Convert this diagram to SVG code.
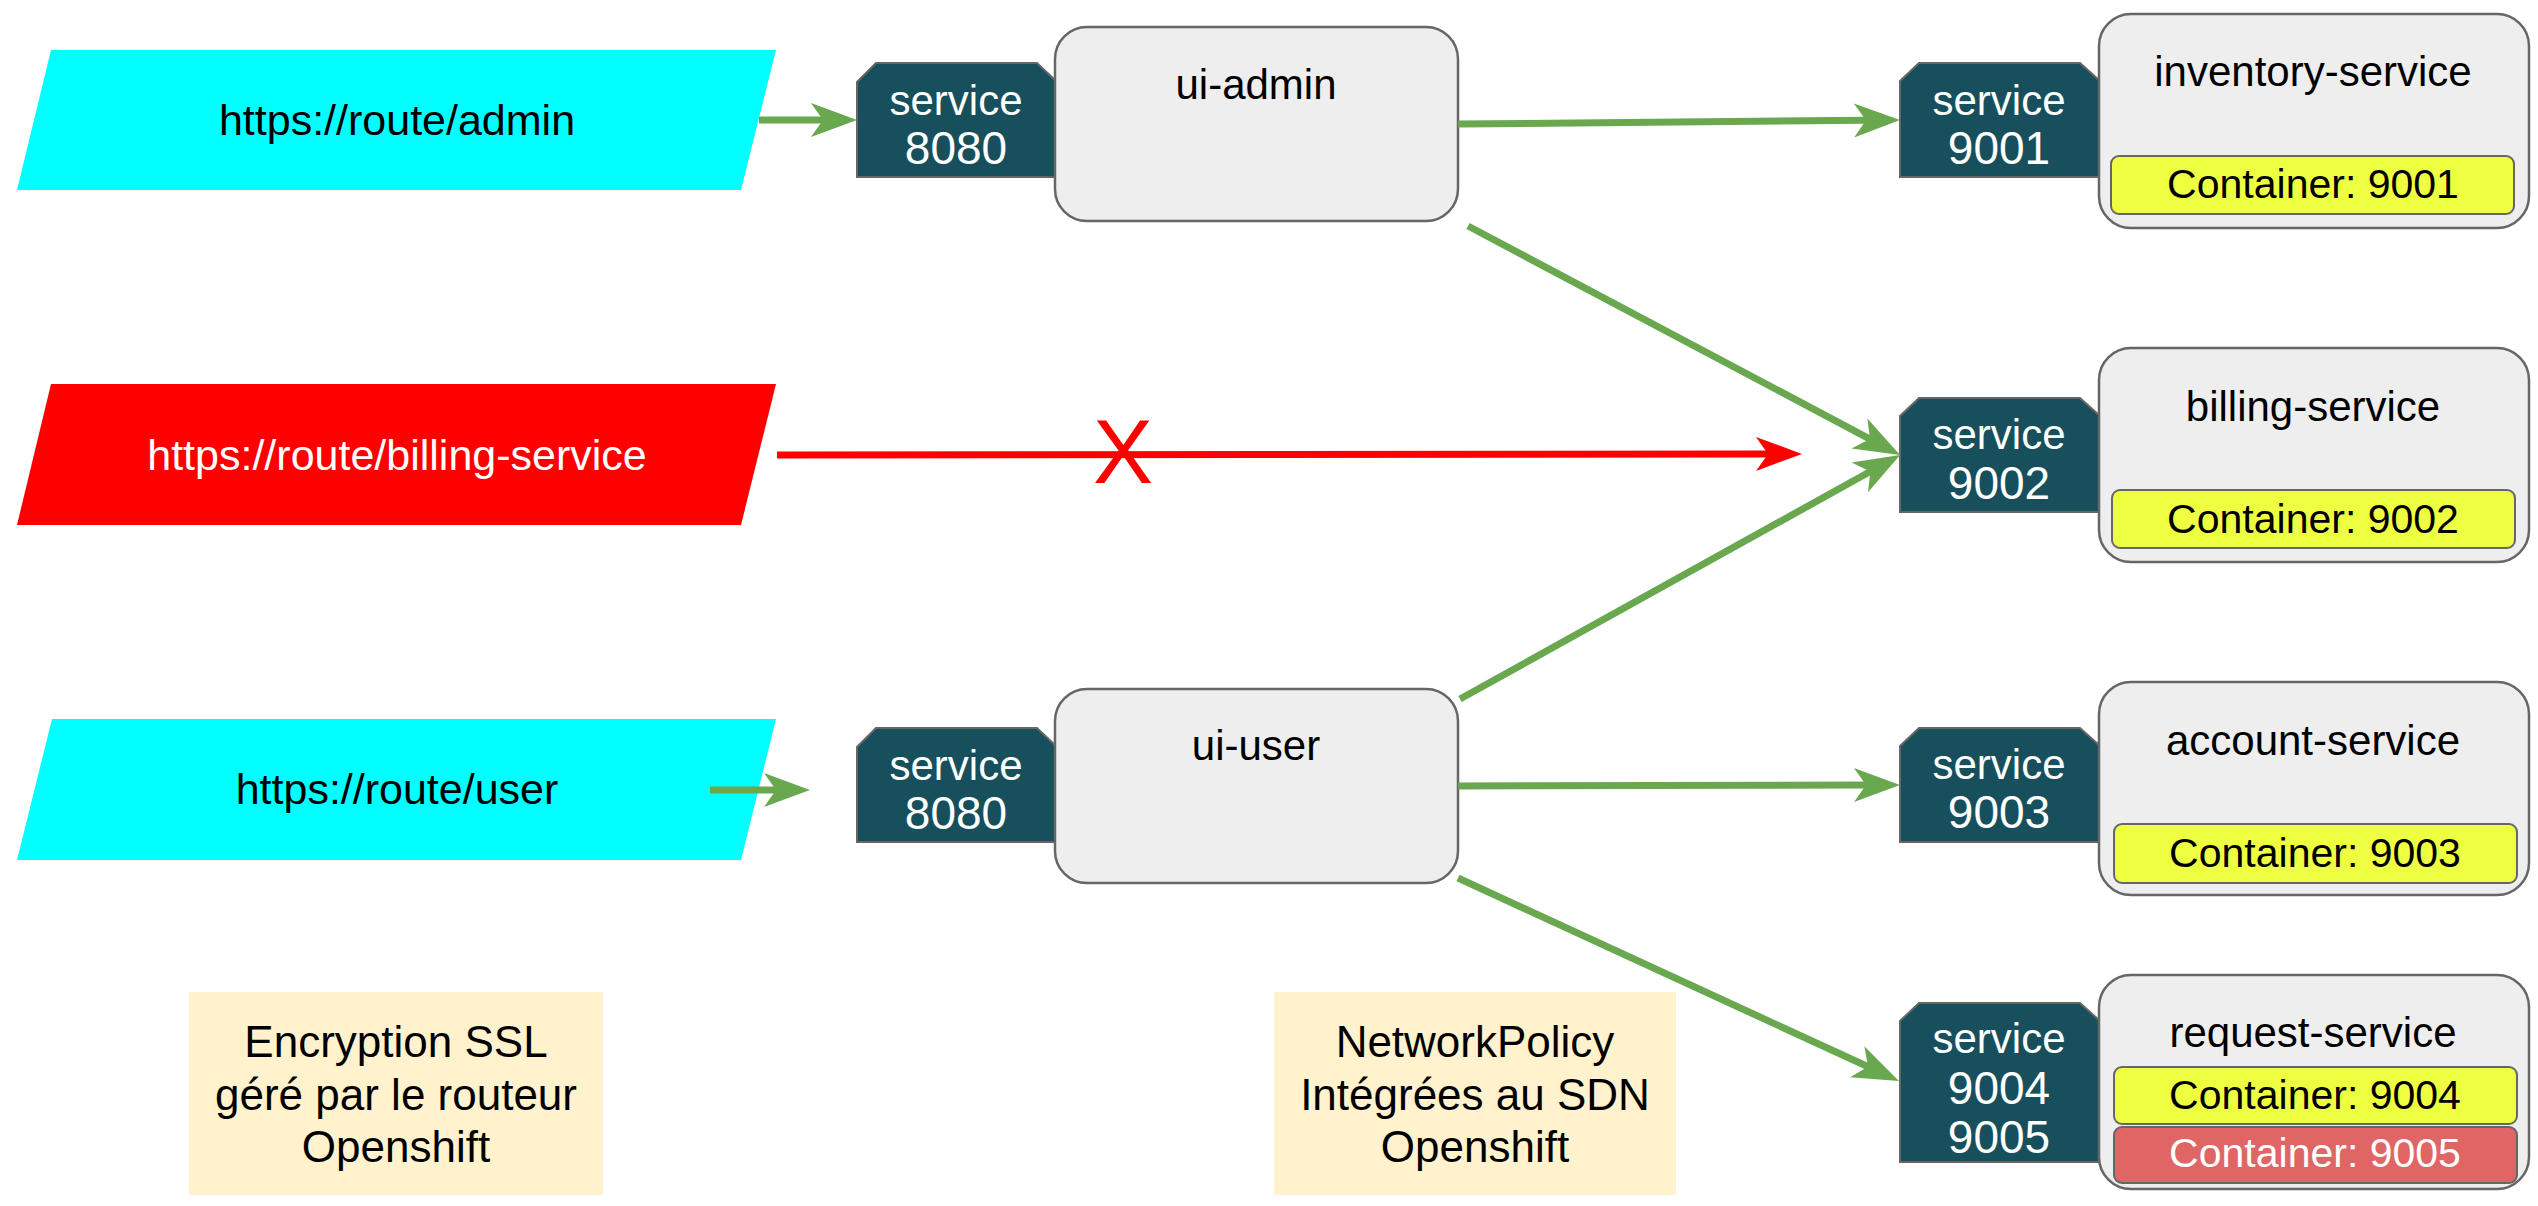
<svg xmlns="http://www.w3.org/2000/svg" width="2538" height="1206" viewBox="0 0 2538 1206">
<style>
text{font-family:"Liberation Sans",Arial,sans-serif;text-anchor:middle}
.route{font-size:43px}
.svcp{fill:#174f5c;stroke:#666;stroke-width:2}
.svct{fill:#fff;font-size:42px}
.svcn{fill:#fff;font-size:46px}
.box{fill:#eeeeee;stroke:#666;stroke-width:2.5}
.title{font-size:42px;fill:#000}
.ctr{fill:#eeff41;stroke:#666;stroke-width:2}
.ctrr{fill:#e06666;stroke:#666;stroke-width:2}
.ctrt{font-size:41px;fill:#000}
.ctrw{font-size:41px;fill:#fff}
.note{fill:#fff2cc}
.notet{font-size:44px;fill:#000}
.g{stroke:#6aa84f;stroke-width:7;fill:none;marker-end:url(#ag)}
.r{stroke:#ff0000;stroke-width:7;fill:none;marker-end:url(#ar)}
</style>
<defs>
<marker id="ag" viewBox="-13 -18 48 36" markerWidth="48" markerHeight="36" refX="0" refY="0" orient="auto" markerUnits="userSpaceOnUse"><path d="M34,0 L-12,-17 L0,0 L-12,17 Z" fill="#6aa84f"/></marker>
<marker id="ar" viewBox="-13 -18 48 36" markerWidth="48" markerHeight="36" refX="0" refY="0" orient="auto" markerUnits="userSpaceOnUse"><path d="M34,0 L-12,-17 L0,0 L-12,17 Z" fill="#ff0000"/></marker>
</defs>
<rect width="2538" height="1206" fill="#fff"/>

<g id="route-admin"><polygon points="51,50 776,50 741,190 17,190" fill="#00ffff"/><text class="route" x="397" y="135">https://route/admin</text></g>
<g id="route-billing"><polygon points="51,384 776,384 741,525 17,525" fill="#ff0000"/><text class="route" x="397" y="470" fill="#fff">https://route/billing-service</text></g>
<g id="route-user"><polygon points="52,719 776,719 741,860 17,860" fill="#00ffff"/><text class="route" x="397" y="804">https://route/user</text></g>

<g id="svc-admin"><polygon class="svcp" points="857,82 876,63 1037,63 1057,82 1057,177 857,177"/><text class="svct" x="956" y="115">service</text><text class="svcn" x="956" y="164">8080</text></g>
<g id="ui-admin"><rect class="box" x="1055" y="27" width="403" height="194" rx="32"/><text class="title" x="1256" y="99">ui-admin</text></g>

<g id="svc-user"><polygon class="svcp" points="857,747 876,728 1037,728 1057,747 1057,842 857,842"/><text class="svct" x="956" y="780">service</text><text class="svcn" x="956" y="829">8080</text></g>
<g id="ui-user"><rect class="box" x="1055" y="689" width="403" height="194" rx="32"/><text class="title" x="1256" y="760">ui-user</text></g>

<g id="svc-9001"><polygon class="svcp" points="1900,81 1919,63 2080,63 2100,81 2100,177 1900,177"/><text class="svct" x="1999" y="115">service</text><text class="svcn" x="1999" y="164">9001</text></g>
<g id="inventory-service"><rect class="box" x="2099" y="14" width="430" height="214" rx="32"/><text class="title" x="2313" y="86">inventory-service</text><rect class="ctr" x="2111" y="156" width="403" height="58" rx="8"/><text class="ctrt" x="2313" y="198">Container: 9001</text></g>

<g id="svc-9002"><polygon class="svcp" points="1900,416 1919,398 2080,398 2100,416 2100,512 1900,512"/><text class="svct" x="1999" y="449">service</text><text class="svcn" x="1999" y="499">9002</text></g>
<g id="billing-service"><rect class="box" x="2099" y="348" width="430" height="214" rx="32"/><text class="title" x="2313" y="421">billing-service</text><rect class="ctr" x="2112" y="490" width="403" height="58" rx="8"/><text class="ctrt" x="2313" y="533">Container: 9002</text></g>

<g id="svc-9003"><polygon class="svcp" points="1900,746 1919,728 2080,728 2100,746 2100,842 1900,842"/><text class="svct" x="1999" y="779">service</text><text class="svcn" x="1999" y="828">9003</text></g>
<g id="account-service"><rect class="box" x="2099" y="682" width="430" height="213" rx="32"/><text class="title" x="2313" y="755">account-service</text><rect class="ctr" x="2114" y="824" width="403" height="59" rx="8"/><text class="ctrt" x="2315" y="867">Container: 9003</text></g>

<g id="svc-9004"><polygon class="svcp" points="1900,1021 1919,1003 2080,1003 2100,1021 2100,1162 1900,1162"/><text class="svct" x="1999" y="1053">service</text><text class="svcn" x="1999" y="1104">9004</text><text class="svcn" x="1999" y="1153">9005</text></g>
<g id="request-service"><rect class="box" x="2099" y="975" width="430" height="214" rx="32"/><text class="title" x="2313" y="1047">request-service</text><rect class="ctr" x="2114" y="1067" width="403" height="57" rx="8"/><text class="ctrt" x="2315" y="1109">Container: 9004</text><rect class="ctrr" x="2114" y="1127" width="403" height="56" rx="8"/><text class="ctrw" x="2315" y="1167">Container: 9005</text></g>

<g id="note-ssl"><rect class="note" x="189" y="992" width="414" height="203"/><text class="notet" x="396" y="1057">Encryption SSL</text><text class="notet" x="396" y="1110">géré par le routeur</text><text class="notet" x="396" y="1162">Openshift</text></g>
<g id="note-netpol"><rect class="note" x="1274" y="992" width="402" height="203"/><text class="notet" x="1475" y="1057">NetworkPolicy</text><text class="notet" x="1475" y="1110">Intégrées au SDN</text><text class="notet" x="1475" y="1162">Openshift</text></g>

<g id="connectors">
<line class="g" x1="759" y1="120" x2="823" y2="120"/>
<line class="g" x1="1458" y1="124" x2="1866" y2="120.3"/>
<line class="g" x1="1468" y1="226" x2="1870" y2="439.1"/>
<line class="r" x1="777" y1="455" x2="1768" y2="454"/>
<text x="1123" y="483" font-size="90" fill="#ff0000">X</text>
<line class="g" x1="1460" y1="699" x2="1870.3" y2="471.5"/>
<line class="g" x1="710" y1="790" x2="776" y2="790"/>
<line class="g" x1="1458" y1="786" x2="1866" y2="785"/>
<line class="g" x1="1458" y1="878" x2="1868.1" y2="1066.8"/>
</g>
</svg>
